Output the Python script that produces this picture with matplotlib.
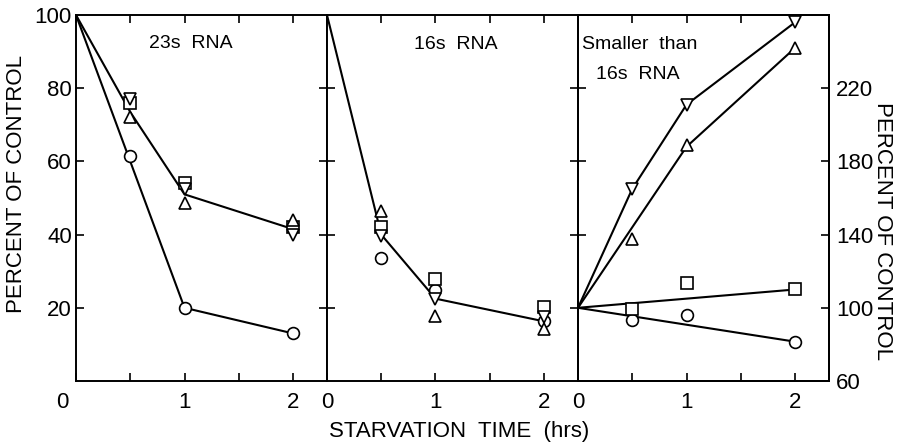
import numpy as np
import matplotlib
matplotlib.use("Agg")
import matplotlib.pyplot as plt

plt.rcParams['font.family'] = ['Liberation Sans', 'DejaVu Sans']

# sampling times (hrs)
hours = [0.5, 1, 2]

# 23s RNA (percent of control, left scale)
r23_circle = [61.5, 20, 13]
r23_square = [76, 54, 42]
r23_down = [77, 52.5, 40]
r23_up = [72, 48.5, 44]
r23_fit_hi_x = [0, 0.5, 1, 2]
r23_fit_hi_y = [100, 73.5, 51, 41.5]
r23_fit_lo_x = [0, 1, 2]
r23_fit_lo_y = [100, 20, 13]

# 16s RNA (left scale)
r16_circle = [33.7, 25, 16.3]
r16_square = [42, 28, 20.3]
r16_down = [39.5, 22.3, 17.5]
r16_up = [46.5, 17.8, 14.2]
r16_fit_x = [0, 0.5, 1, 2]
r16_fit_y = [100, 40, 22.5, 16.3]

# smaller than 16s RNA (right scale)
sm_circle = [93.5, 96, 81.5]
sm_square = [99.5, 113.5, 110]
sm_down = [165, 211, 256]
sm_up = [137.5, 189, 242]
sm_fit_down_x = [0, 0.5, 1, 2]
sm_fit_down_y = [100, 165, 211, 256]
sm_fit_up_x = [0, 1, 2]
sm_fit_up_y = [100, 188, 242]
sm_fit_sq_x = [0, 2]
sm_fit_sq_y = [100, 110]
sm_fit_ci_x = [0, 2]
sm_fit_ci_y = [100, 81.5]

left_ticks = [20, 40, 60, 80, 100]
right_ticks = [60, 100, 140, 180, 220]
x_ticks = [0, 0.5, 1, 1.5, 2]

W, H = 904, 445
fig = plt.figure(figsize=(W / 100, H / 100), dpi=100)

bot = (H - 381) / H
top = (H - 15) / H
lefts = [76, 327, 578]
pw = 251
xmax = pw / 108.5

mk = dict(markersize=8.5, markerfacecolor='white', markeredgecolor='black',
          markeredgewidth=1.2, linestyle='none', zorder=3)
ln = dict(color='black', linewidth=1.5, zorder=2)

axes = []
for i, l in enumerate(lefts):
    ax = fig.add_axes([l / W, bot, pw / W, top - bot])
    ax.set_xlim(0, xmax)
    ax.set_ylim(0, 100)
    ax.set_xticks(x_ticks)
    ax.set_yticks([20, 40, 60, 80])
    ax.tick_params(direction='in', length=6, width=1.2, top=True, right=True,
                   labelsize=16, pad=8, colors='black')
    for s in ax.spines.values():
        s.set_linewidth(1.4)
    ax.set_yticklabels([])
    axes.append(ax)

ax1, ax2, ax3 = axes

# x tick labels
ax1.set_xticklabels(['', '', '1', '', '2'])
ax1.annotate('0', xy=(0, 0), xycoords='data', xytext=(-10, -8),
             textcoords='offset points', ha='center', va='top', fontsize=16)
ax2.set_xticklabels(['0', '', '1', '', '2'])
ax3.set_xticklabels(['0', '', '1', '', '2'])

# left scale labels on first panel
ax1.set_yticks(left_ticks)
ax1.set_yticklabels([str(v) for v in left_ticks])
ax1.tick_params(axis='y', pad=3)
ax1.yaxis.get_major_ticks()[-1].tick1line.set_visible(False)
ax1.yaxis.get_major_ticks()[-1].tick2line.set_visible(False)

# panel 1
ax1.plot(r23_fit_hi_x, r23_fit_hi_y, **ln)
ax1.plot(r23_fit_lo_x, r23_fit_lo_y, **ln)
ax1.plot(hours, r23_circle, marker='o', **mk)
ax1.plot(hours, r23_square, marker='s', **mk)
ax1.plot(hours, r23_up, marker='^', **mk)
ax1.plot(hours, r23_down, marker='v', **mk)
ax1.text(1.06, 92.3, '23s  RNA', ha='center', va='center', fontsize=14)

# panel 2
ax2.plot(r16_fit_x, r16_fit_y, **ln)
ax2.plot(hours, r16_circle, marker='o', **mk)
ax2.plot(hours, r16_square, marker='s', **mk)
ax2.plot(hours, r16_up, marker='^', **mk)
ax2.plot(hours, r16_down, marker='v', **mk)
ax2.text(1.19, 92.0, '16s  RNA', ha='center', va='center', fontsize=14)

# panel 3 with right scale
ax3r = ax3.twinx()
ax3r.set_position(ax3.get_position())
ax3r.set_ylim(60, 260)
ax3r.set_yticks(right_ticks)
ax3r.set_yticklabels([str(v) for v in right_ticks])
ax3r.tick_params(axis='y', direction='in', length=6, width=1.2, labelsize=16, pad=5)
ax3.tick_params(axis='y', right=False)
for s in ax3r.spines.values():
    s.set_linewidth(1.4)
ax3r.yaxis.get_major_ticks()[0].tick2line.set_visible(False)

ax3r.plot(sm_fit_down_x, sm_fit_down_y, **ln)
ax3r.plot(sm_fit_up_x, sm_fit_up_y, **ln)
ax3r.plot(sm_fit_sq_x, sm_fit_sq_y, **ln)
ax3r.plot(sm_fit_ci_x, sm_fit_ci_y, **ln)
ax3r.plot(hours, sm_circle, marker='o', **mk)
ax3r.plot(hours, sm_square, marker='s', **mk)
ax3r.plot(hours, sm_up, marker='^', **mk)
ax3r.plot(hours, sm_down, marker='v', **mk)
ax3.text(0.57, 92.0, 'Smaller  than', ha='center', va='center', fontsize=14)
ax3.text(0.55, 83.8, '16s  RNA', ha='center', va='center', fontsize=14)

# axis titles
fig.text(17 / W, 1 - 184 / H, 'PERCENT OF CONTROL', rotation=90,
         ha='center', va='center', fontsize=16)
fig.text(883 / W, 1 - 231 / H, 'PERCENT OF CONTROL', rotation=-90,
         ha='center', va='center', fontsize=16)
fig.text(459 / W, 1 - 431 / H, 'STARVATION  TIME  (hrs)',
         ha='center', va='center', fontsize=16)

fig.savefig('out.png', dpi=100)
